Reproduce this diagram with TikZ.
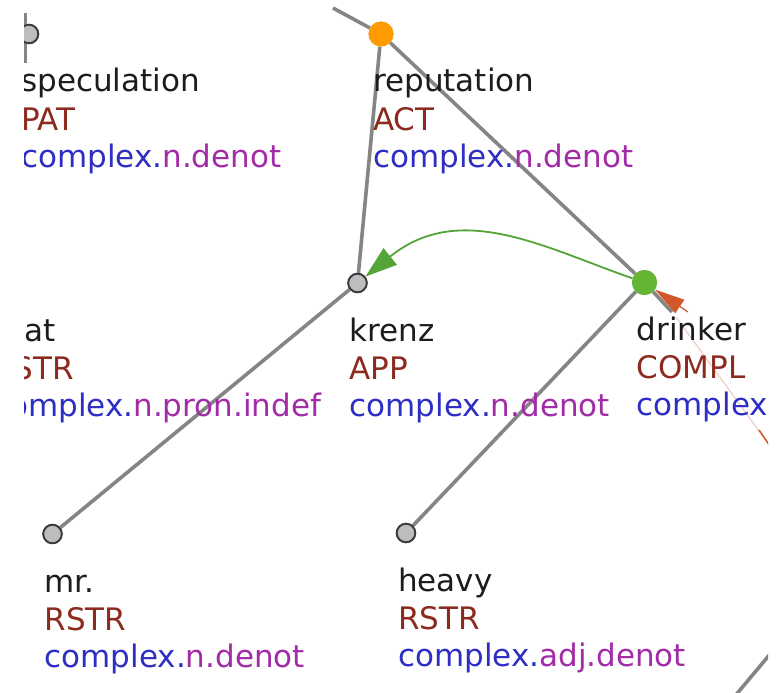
\documentclass[tikz,border=0pt]{standalone}
\usepackage{fontspec}
\setmainfont{DejaVu Sans}
\usetikzlibrary{arrows.meta,calc}

\definecolor{edgegray}{HTML}{858585}
\definecolor{nodefill}{HTML}{BDBDBD}
\definecolor{nodedraw}{HTML}{3A3A3A}
\definecolor{hubOrange}{HTML}{FF9A00}
\definecolor{hubGreen}{HTML}{64B532}
\definecolor{corefGreen}{HTML}{55A43A}
\definecolor{corefRed}{HTML}{D2582C}
\definecolor{wordc}{HTML}{1C1C1C}
\definecolor{functorc}{HTML}{8C2A1E}
\definecolor{semblue}{HTML}{2E2EC4}
\definecolor{sempurple}{HTML}{A22BA8}

\tikzset{
  x=1pt, y=-1pt,
  tnode/.style={circle, fill=nodefill, draw=nodedraw, line width=1.8pt,
                minimum size=18.5pt, inner sep=0pt},
  hub/.style={circle, fill=#1, draw=none, minimum size=25pt, inner sep=0pt},
  edge/.style={draw=edgegray, line width=3.6pt},
  txt/.style={anchor=base west, inner sep=0pt,
              font=\fontsize{31}{31}\selectfont},
  greenlink/.style={draw=corefGreen, line width=1.8pt,
                    -{Triangle[length=32pt,width=21pt]}},
  redlink/.style={draw=corefRed, line width=1.2pt,
                  -{Triangle[length=30pt,width=16pt]}},
}

% three-line label under a tree node: word, functor, sempos
\newcommand\tlabel[5]{%
  \node[txt, text=wordc]    (#1w) at ($(#1)+(-8,58)$)  {#2};
  \node[txt, text=functorc] (#1f) at ($(#1)+(-8,96)$)  {#3};
  \node[txt]                (#1s) at ($(#1)+(-8,133)$)
       {\textcolor{semblue}{#4}\textcolor{sempurple}{#5}};
}

\begin{document}
\begin{tikzpicture}
\useasboundingbox[fill=white] (0,0) rectangle (782,693);

\begin{scope}
\clip (24,0) rectangle (768,693);

% node positions
\coordinate (spP) at (29,34);
\coordinate (reP) at (381,34);
\coordinate (krP) at (357.5,283);
\coordinate (drP) at (644.5,282.5);
\coordinate (mrP) at (52.5,534);
\coordinate (hvP) at (406,533);
\coordinate (thP) at (0,283);

% free ends of edges leaving the view
\coordinate (topEnd) at (333,8);
\coordinate (leftA) at (25.5,13);
\coordinate (leftB) at (25.5,63);
\coordinate (drStub) at (672,312);
\coordinate (brA) at (771,653);
\coordinate (brB) at (735,696);
\coordinate (paleA) at (676,317);
\coordinate (paleB) at (770,446);
\coordinate (tickA) at (759,430);
\coordinate (redSrc) at (688,312);

% tree nodes
\node[tnode] (sp) at (spP) {};
\node[hub=hubOrange] (re) at (reP) {};
\node[tnode] (kr) at (krP) {};
\node[hub=hubGreen] (dr) at (drP) {};
\node[tnode] (mr) at (mrP) {};
\node[tnode] (hv) at (hvP) {};

% edges, behind the nodes
\draw[edge] (topEnd) -- (re);
\draw[edge, line width=2.5pt] (leftA) -- (leftB);
\draw[edge] (re) -- (dr);
\draw[edge] (re) -- (kr);
\draw[edge] (kr) -- (mr);
\draw[edge] (dr) -- (hv);
\draw[edge] (dr) -- (drStub);
\draw[edge] (brA) -- (brB);

% coreference links
\draw[corefRed!30, line width=1.2pt] (paleA) -- (paleB);
\draw[corefRed, line width=1.5pt] (tickA) -- (paleB);
\draw[redlink] (redSrc) -- (dr);
\draw[greenlink] (dr) .. controls (545,248) and (460,200) .. (kr);

% redraw the nodes on top of the lines
\node[tnode] at (spP) {};
\node[hub=hubOrange] at (reP) {};
\node[tnode] at (krP) {};
\node[hub=hubGreen] at (drP) {};
\node[tnode] at (mrP) {};
\node[tnode] at (hvP) {};

% labels
\tlabel{spP}{speculation}{PAT}{complex.}{n.denot}
\tlabel{reP}{reputation}{ACT}{complex.}{n.denot}
\tlabel{thP}{that}{RSTR}{complex.}{n.pron.indef}
\tlabel{krP}{krenz}{APP}{complex.}{n.denot}
\tlabel{drP}{drinker}{COMPL}{complex.}{n.denot}
\tlabel{mrP}{mr.}{RSTR}{complex.}{n.denot}
\tlabel{hvP}{heavy}{RSTR}{complex.}{adj.denot}
\end{scope}
\end{tikzpicture}
\end{document}
